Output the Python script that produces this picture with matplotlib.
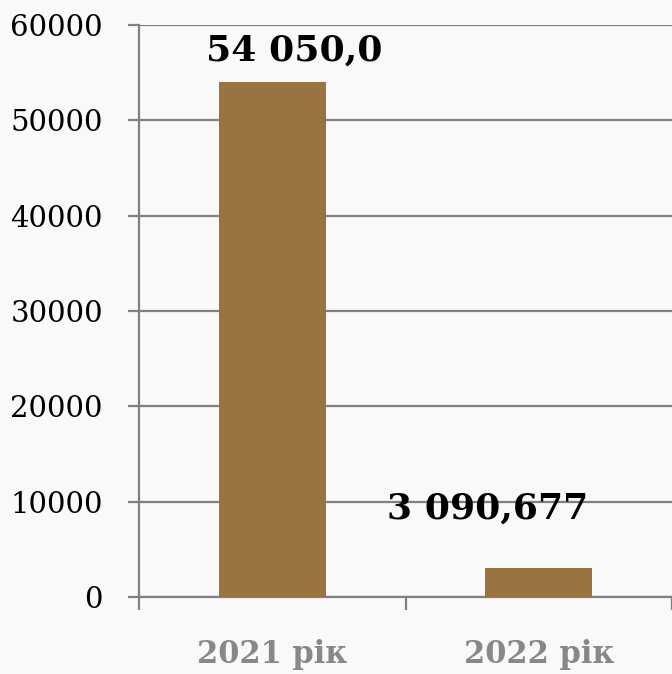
import matplotlib
matplotlib.use("Agg")
import matplotlib.pyplot as plt

categories = ["2021 рік", "2022 рік"]
values = [54050.0, 3090.677]
value_labels = ["54 050,0", "3 090,677"]
yticks = [0, 10000, 20000, 30000, 40000, 50000, 60000]

bar_color = "#997340"
grid_color = "#808080"

fig = plt.figure(figsize=(6.72, 6.74), dpi=100)
fig.patch.set_facecolor("#f9f9f9")
ax = fig.add_axes([139/672, 1-597/674, 1-139/672, (597-25)/674])
ax.set_facecolor("#f9f9f9")

x = list(range(len(categories)))
ax.bar(x, values, width=0.4, color=bar_color, zorder=3)

ax.set_xlim(-0.5, 1.5)
ax.set_ylim(0, 60000)
ax.set_yticks(yticks)
ax.set_yticklabels([str(v) for v in yticks], family="DejaVu Serif", fontsize=21)
ax.yaxis.grid(True, color=grid_color, linewidth=1.6, zorder=0)
ax.set_axisbelow(True)

ax.set_xticks(x)
ax.set_xticklabels(categories, family="DejaVu Serif", fontsize=22,
                   fontweight="bold", color="#888888")
ax.set_xticks([-0.5, 0.5, 1.5], minor=True)
ax.tick_params(axis="x", which="major", length=0, pad=30)
ax.tick_params(axis="x", which="minor", length=9, width=1.6, color=grid_color)
ax.tick_params(axis="y", length=8, width=1.6, color=grid_color, pad=18)

for s in ["top", "right"]:
    ax.spines[s].set_visible(False)
for s in ["left", "bottom"]:
    ax.spines[s].set_color(grid_color)
    ax.spines[s].set_linewidth(1.6)

offsets = [(16, 10), (-37, 30)]
for xi, v, lab, off in zip(x, values, value_labels, offsets):
    ax.annotate(lab, xy=(xi, v), xytext=off, textcoords="offset points",
                ha="center", va="bottom", family="DejaVu Serif",
                fontsize=26, fontweight="bold", color="black")

fig.savefig("out.png", dpi=100, facecolor=fig.get_facecolor())
